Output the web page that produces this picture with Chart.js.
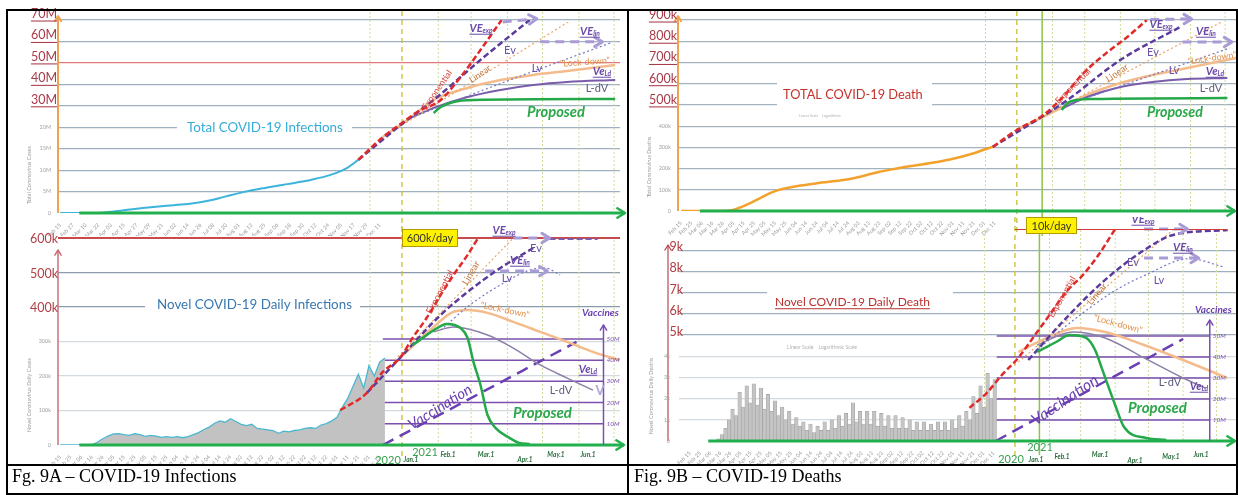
<!DOCTYPE html>
<html>
<head>
<meta charset="utf-8">
<script src="https://cdn.jsdelivr.net/npm/chart.js@4.4.1/dist/chart.umd.min.js"></script>
<style>
  body { margin: 0; background: #fff; }
  #fig { position: relative; width: 1238px; height: 495px; overflow: hidden; background: #fff; }
  canvas { position: absolute; }
  .ln { position: absolute; background: #000; }
  .cap { position: absolute; top: 466px; height: 28px; line-height: 28px; font: 18px 'Liberation Serif', serif; color: #000; white-space: nowrap; }
</style>
</head>
<body>
<div id="fig">
  <canvas id="tl"></canvas>
  <canvas id="bl"></canvas>
  <canvas id="tr"></canvas>
  <canvas id="br"></canvas>
  <div class="ln" style="left:6px;top:9px;width:1232px;height:2px"></div>
  <div class="ln" style="left:6px;top:9px;width:2px;height:486px"></div>
  <div class="ln" style="left:627px;top:9px;width:2px;height:486px"></div>
  <div class="ln" style="left:1236px;top:9px;width:2px;height:486px"></div>
  <div class="ln" style="left:6px;top:464px;width:1232px;height:2px"></div>
  <div class="ln" style="left:6px;top:493px;width:1232px;height:2px"></div>
  <div class="cap" style="left:12px">Fg. 9A – COVID-19 Infections</div>
  <div class="cap" style="left:634px">Fig. 9B – COVID-19 Deaths</div>
</div>
<script>
// day 0 = Feb 15 2020, day 321 = Jan 1 2021

// ---- Fig 9A top: total infections (millions)
const totalCaseDays = [0,10,20,30,40,50,60,70,80,90,100,110,120,130,140,150,160,170,180,190,200,210,220,230,240,250,260,270,280];
const totalCases = [0,0,0,0.01,0.08,0.34,0.64,0.94,1.2,1.45,1.68,1.9,2.12,2.45,2.9,3.5,4.15,4.75,5.3,5.75,6.2,6.6,7.0,7.45,8.0,8.6,9.4,10.6,12.4];
const expDaysA = [280,303,321,334,354,371,388,406];
const expCasesA = [12.4,17.7,22.0,27.1,32.7,43.4,56.0,70];
const evDaysA = [280,321,348,390,430];
const evCasesA = [12.4,21.5,32.7,52.3,70];
const linDaysA = [314,463];
const linCasesA = [19.4,69.1];
const lvDaysA = [328,413,499];
const lvCasesA = [24.3,42,59.3];
const veExpDaysA = [407,436];
const veExpCasesA = [69.1,70.6];
const veLinDaysA = [439,492];
const veLinCasesA = [59.8,59.8];
const lockDaysA = [303,328,348,377,405,433,462,503];
const lockCasesA = [17.7,24.3,32.7,38.3,42,44.4,46.2,49];
const ldvDaysA = [328,348,377,405,433,462,503];
const ldvCasesA = [24.3,29,34.1,37.4,39.7,41.1,42];
const propDaysA = [348,354,365,382,503];
const propCasesA = [26.6,29.4,31.8,32.7,33.2];
const tickValsA = [0,5,10,15,20,30,40,50,60,70];
const tickLabelsA = ['0','5M','10M','15M','20M','30M','40M','50M','60M','70M'];

// ---- Fig 9A bottom: daily infections (thousands)
const dailyCases = [0,0,0,0,0,0.4,1,8,18,26,32,33,30,28,33,30,25,28,26,22,24,22,24,21,24,30,36,45,52,63,70,66,76,68,60,56,60,48,46,44,42,34,40,38,42,44,48,50,48,58,62,70,80,110,135,170,205,165,230,200,240,252];
const dailyCaseDays = dailyCases.map((v, i) => i * 5);
const expDaysB = [263,288,303,319,330,342,354,365,377,386];
const expCasesB = [101,151,212,252,310,368,435,493,551,600];
const evDaysB = [288,319,354,379,405,433];
const evCasesB = [151,252,377,449,513,571];
const evFlatDaysB = [447,488];
const evFlatCasesB = [598,598];
const linDaysB = [314,416];
const linCasesB = [246,600];
const lvDaysB = [354,379,405,430,443,456];
const lvCasesB = [333,406,464,507,513,493];
const veExpDaysB = [416,447];
const veExpCasesB = [600,600];
const veLinDaysB = [392,445];
const veLinCasesB = [504,504];
const lockDaysB = [319,348,363,377,394,416,439,462,484,507];
const lockCasesB = [252,342,383,391,383,357,328,299,270,246];
const ldvDaysB = [348,365,394,416,439,462,484];
const ldvCasesB = [328,342,319,281,232,194,159];
const propDaysB = [330,356,359,371,377,382,388,394,401,413,421,430];
const propCasesB = [290,348,351,339,310,241,174,87,49,20,6,3];
const vacDaysB = [303,470];
const vacMillionsB = [0,48.6];
const tickValsB = [0,100,200,300,400,500,600];
const tickLabelsB = ['0','100k','200k','300k','400k','500k','600k'];

// ---- Fig 9B top: total deaths (thousands)
const totalDeathDays = [0,10,20,30,40,47,55,62,69,76,84,92,100,110,120,130,140,150,160,170,180,190,200,210,220,230,240,250,260,270,280,290,298];
const totalDeaths = [0,0,0,0,0,2,14,28,44,62,82,97,107,117,124,131,137,143,150,160,173,185,195,204,212,219,227,236,246,258,272,290,302];
const expDaysC = [298,321,344,361,379,399,417,434];
const expDeathsC = [302,382,452,537,650,745,820,900];
const evDaysC = [298,344,365,411,463];
const evDeathsC = [302,448,523,712,867];
const linDaysC = [341,499];
const linDeathsC = [438,891];
const lvDaysC = [347,506];
const lvDeathsC = [467,768];
const veExpDaysC = [437,473];
const veExpDeathsC = [902,905];
const veLinDaysC = [465,508];
const veLinDeathsC = [796,796];
const lockDaysC = [321,361,382,411,439,469,512];
const lockDeathsC = [382,490,547,603,641,674,721];
const ldvDaysC = [361,382,411,439,469,504];
const ldvDeathsC = [485,537,584,608,622,627];
const propDaysC = [360,365,373,387,504];
const propDeathsC = [476,509,523,528,532];
const tickValsC = [0,100,200,300,400,500,600,700,800,900];
const tickLabelsC = ['0','100k','200k','300k','400k','500k','600k','700k','800k','900k'];

// ---- Fig 9B bottom: daily deaths (thousands)
const dailyDeaths = [0.1,0.3,0.6,1.0,1.5,1.2,2.3,1.6,2.6,1.8,2.7,1.7,2.5,1.5,2.2,1.4,1.9,1.2,1.6,1.0,1.4,0.8,1.1,0.7,0.9,0.5,0.8,0.4,0.7,0.5,0.9,0.5,1.0,0.6,1.2,0.7,1.3,0.8,1.8,0.9,1.4,0.8,1.4,0.8,1.4,0.7,1.3,0.7,1.2,0.6,1.2,0.6,1.1,0.6,1.0,0.5,0.9,0.5,0.9,0.5,0.8,0.5,0.9,0.5,0.9,0.5,1.0,0.6,1.2,0.7,1.4,1.0,2.1,1.3,2.6,1.6,3.2,2.0,2.9];
const dailyDeathDays = dailyDeaths.map((v, i) => 28 + i * 3.5);
const expDaysD = [276,293,308,324,339,352,367,382,396,411];
const expDeathsD = [1.56,2.26,3.11,3.92,5.0,5.94,7.03,7.83,8.77,10.0];
const evDaysD = [333,367,402,437,463,512];
const evDeathsD = [3.82,5.8,7.6,9.0,9.72,9.95];
const linDaysD = [324,464];
const linDeathsD = [3.73,10.0];
const lvDaysD = [341,376,411,437,478,509];
const lvDeathsD = [4.3,5.8,7.1,7.8,8.6,8.2];
const veExpDaysD = [437,476];
const veExpDeathsD = [10,10];
const veLinDaysD = [437,486];
const veLinDeathsD = [8.63,8.63];
const lockDaysD = [324,350,376,402,437,472,512];
const lockDeathsD = [4.2,4.86,5.33,5.14,4.53,3.82,2.97];
const ldvDaysD = [341,373,402,437,472,492];
const ldvDeathsD = [4.53,5.14,4.86,3.92,2.97,2.5];
const propDaysD = [341,358,370,385,393,399,406,411,419,439,457];
const propDeathsD = [4.2,4.67,5.0,4.86,4.29,3.44,2.41,1.7,0.66,0.14,0.05];
const vacDaysD = [302,472];
const vacMillionsD = [0,48.6];
const limitDaysD = [321,512];
const limitDeathsD = [10,10];
const tickValsD = [0,1,2,3,4,5,6,7,8,9,10];
const tickLabelsD = ['0','1k','2k','3k','4k','5k','6k','7k','8k','9k',''];

// vaccines (millions) and month markers
const vaccineLevels = [10,20,30,40,50];
const monthDays = [291,321,352,380,411,441,472,502];
const JAN1 = 321;

// projection part of the time axis is drawn a bit wider than 2020
function xu(d) { return d <= JAN1 ? d : JAN1 + (d - JAN1) * 1.1; }
// fig 9A top axis: 5M steps up to 20M, then 10M steps
function stepA(m) { return m <= 20 ? m / 5 : 4 + (m - 20) / 10; }

const MON = ['Jan','Feb','Mar','Apr','May','Jun','Jul','Aug','Sep','Oct','Nov','Dec'];
function dateLabel(d) {
  const t = new Date(2020, 1, 15 + d);
  return MON[t.getMonth()] + ' ' + String(t.getDate()).padStart(2, '0');
}
function range(a, b, s) { const r = []; for (let v = a; v <= b; v += s) r.push(v); return r; }

const S = {
  exp: { borderColor: '#e02a2a', borderWidth: 2.5, borderDash: [6, 3] },
  ev: { borderColor: '#5b3c9c', borderWidth: 2.5, borderDash: [6, 3] },
  lin: { borderColor: '#eba56a', borderWidth: 1.2, borderDash: [2, 2.5] },
  lv: { borderColor: '#7777c4', borderWidth: 1.2, borderDash: [2, 2.5] },
  ve: { borderColor: '#a99bd6', borderWidth: 3, borderDash: [9, 6], arrow: true, clip: false },
  lock: { borderColor: '#f4bc8c', borderWidth: 2.5 },
  ldv: { borderColor: '#7a5cab', borderWidth: 2 },
  ldvThin: { borderColor: '#8c80a8', borderWidth: 1.5 },
  prop: { borderColor: '#25a84a', borderWidth: 2.5 },
  vac: { borderColor: '#6b40b4', borderWidth: 2.5, borderDash: [12, 7], yAxisID: 'y2' },
  vl: { borderColor: '#7b4fae', borderWidth: 1.5, yAxisID: 'y2' }
};

function line(days, vals, style, extra) {
  return Object.assign({
    type: 'line',
    data: days.map((d, i) => ({ x: xu(d), y: vals[i] })),
    pointRadius: 0, fill: false, tension: 0.35, cubicInterpolationMode: 'monotone'
  }, style, extra || {});
}
function vaccineLines(from, to) {
  return vaccineLevels.map(v => line([from, to], [v, v], S.vl));
}

function chev(c, x0, y0, x1, y1, color, s, w) {
  const a = Math.atan2(y1 - y0, x1 - x0);
  c.save();
  c.strokeStyle = color; c.lineWidth = w; c.setLineDash([]); c.lineCap = 'round'; c.lineJoin = 'round';
  c.beginPath();
  c.moveTo(x1 - s * Math.cos(a - 0.55), y1 - s * Math.sin(a - 0.55));
  c.lineTo(x1, y1);
  c.lineTo(x1 - s * Math.cos(a + 0.55), y1 - s * Math.sin(a + 0.55));
  c.stroke();
  c.restore();
}

function txt(c, o, L, T) {
  c.save();
  c.translate(o.x - L, o.y - T);
  if (o.rot) c.rotate(o.rot * Math.PI / 180);
  const fam = o.fam || 'Lato, sans-serif';
  const st = o.style || '';
  let size = o.size || 10;
  c.font = st + ' ' + size + 'px ' + fam;
  if (o.w) { size = size * o.w / c.measureText(o.t).width; c.font = st + ' ' + size + 'px ' + fam; }
  c.textBaseline = 'middle';
  c.textAlign = 'left';
  const w = c.measureText(o.t).width;
  let subW = 0;
  if (o.sub) {
    c.font = st + ' ' + (size * 0.6) + 'px ' + fam;
    subW = c.measureText(o.sub).width;
    c.font = st + ' ' + size + 'px ' + fam;
  }
  const total = w + subW;
  const x0 = o.align === 'left' ? 0 : o.align === 'right' ? -total : -total / 2;
  c.fillStyle = o.c;
  c.fillText(o.t, x0, 0);
  if (o.sub) {
    c.font = st + ' ' + (size * 0.6) + 'px ' + fam;
    c.fillText(o.sub, x0 + w, size * 0.3);
  }
  if (o.ul) c.fillRect(x0, size * 0.52, total, Math.max(1, size / 12));
  c.restore();
}

const DECO = {};
const deco = {
  id: 'deco',
  beforeDatasetsDraw(chart) {
    const o = DECO[chart.canvas.id], c = chart.ctx, L = o.L, T = o.T, xs = chart.scales.x;
    (o.blanks || []).forEach(b => { c.fillStyle = '#fff'; c.fillRect(b[0] - L, b[1] - T, b[2], b[3]); });
    (o.vlines || []).forEach(v => {
      const px = xs.getPixelForValue(xu(v.day));
      c.save();
      c.strokeStyle = v.color; c.lineWidth = v.width; c.setLineDash(v.dash || []);
      c.beginPath(); c.moveTo(px, v.y0 - T); c.lineTo(px, v.y1 - T); c.stroke();
      c.restore();
    });
  },
  afterDatasetsDraw(chart) {
    const o = DECO[chart.canvas.id], c = chart.ctx, L = o.L, T = o.T;
    const xs = chart.scales.x, ys = chart.scales.y;
    chart.data.datasets.forEach((ds, i) => {
      if (!ds.arrow) return;
      const p = chart.getDatasetMeta(i).data, n = p.length;
      chev(c, p[n - 2].x, p[n - 2].y, p[n - 1].x, p[n - 1].y, ds.borderColor, 9, ds.borderWidth);
    });
    // y axis arrow
    const a = o.yAxis;
    c.save();
    c.strokeStyle = a.color; c.lineWidth = a.width;
    c.beginPath(); c.moveTo(a.x - L, a.y0 - T); c.lineTo(a.x - L, a.y1 - T); c.stroke();
    c.restore();
    chev(c, a.x - L, a.y0 - T, a.x - L, a.y1 - T, a.color, 6, a.width);
    // green time axis
    const g = o.xAxis;
    const gy = ys.getPixelForValue(0);
    const gx0 = xs.getPixelForValue(xu(g.from)), gx1 = g.to - L;
    c.save();
    c.strokeStyle = '#22b04e'; c.lineWidth = 3;
    c.beginPath(); c.moveTo(gx0, gy); c.lineTo(gx1, gy); c.stroke();
    c.restore();
    chev(c, gx1 - 10, gy, gx1, gy, '#22b04e', 9, 2.5);
    // vaccine axis
    if (o.vax) {
      const y2 = chart.scales.y2;
      const vx = xs.getPixelForValue(xu(o.vax.day));
      c.save();
      c.strokeStyle = '#7b4fae'; c.lineWidth = 1.5;
      c.beginPath(); c.moveTo(vx, y2.getPixelForValue(0)); c.lineTo(vx, o.vax.top - T); c.stroke();
      c.restore();
      chev(c, vx, y2.getPixelForValue(0), vx, o.vax.top - T, '#7b4fae', 6, 1.5);
      vaccineLevels.forEach(v => {
        txt(c, { x: vx + L + 3, y: y2.getPixelForValue(v) + T, t: v + 'M', c: '#7b4fae', size: 6.5, style: 'italic', align: 'left' }, L, T);
      });
    }
    // yellow boxes
    (o.boxes || []).forEach(b => {
      c.fillStyle = '#fff200'; c.fillRect(b.x - L, b.y - T, b.w, b.h);
      c.strokeStyle = '#b49a00'; c.lineWidth = 1; c.strokeRect(b.x - L + 0.5, b.y - T + 0.5, b.w - 1, b.h - 1);
      txt(c, { x: b.x + b.w / 2, y: b.y + b.h / 2 + 0.5, t: b.t, c: '#333', size: 11 }, L, T);
    });
    // y tick labels
    const yl = o.yl;
    yl.vals.forEach((v, i) => {
      const py = ys.getPixelForValue(v) + T;
      if (i >= yl.bigFrom) {
        txt(c, { x: yl.bigX, y: py + yl.dy, t: yl.labels[i], c: yl.color, size: yl.size, align: 'right', ul: yl.ul }, L, T);
      } else {
        txt(c, { x: yl.smallX, y: py, t: yl.labels[i], c: '#a3a3a3', size: 5.5, align: 'right' }, L, T);
      }
    });
    (o.texts || []).forEach(t => txt(c, t, L, T));
  }
};

function xScale(max, tickDays, h) {
  return {
    type: 'linear', min: -2, max: max,
    grid: { display: false }, border: { display: false },
    afterBuildTicks: s => { s.ticks = tickDays.map(d => ({ value: xu(d) })); },
    afterFit: s => { s.height = h; },
    ticks: {
      autoSkip: false, maxRotation: 45, minRotation: 45, padding: 1,
      color: '#9a9a9a', font: { size: 5.5, family: 'Lato' },
      callback: (v, i) => dateLabel(tickDays[i])
    }
  };
}
function yScale(max, vals, color, width) {
  return {
    type: 'linear', min: 0, max: max,
    border: { display: false }, ticks: { display: false },
    afterBuildTicks: s => { s.ticks = vals.map(v => ({ value: v })); },
    afterFit: s => { s.width = 50; },
    grid: { drawTicks: false, color: ctx => color(ctx.tick.value), lineWidth: ctx => width(ctx.tick.value) }
  };
}

function build(id, box, padTop, padRight, datasets, scales, d) {
  const cv = document.getElementById(id);
  cv.width = box[2]; cv.height = box[3];
  cv.style.left = box[0] + 'px'; cv.style.top = box[1] + 'px';
  DECO[id] = Object.assign({ L: box[0], T: box[1] }, d);
  return new Chart(cv, {
    type: 'line',
    data: { datasets: datasets },
    options: {
      responsive: false, animation: false, devicePixelRatio: 1,
      layout: { padding: { top: padTop, right: padRight, left: 0, bottom: 0 } },
      plugins: { legend: { display: false }, tooltip: { enabled: false } },
      scales: scales
    },
    plugins: [deco]
  });
}

const LBL = (x, y, t, c, extra) => Object.assign({ x: x, y: y, t: t, c: c }, extra || {});
const VE = (x, y, sub) => ({ x: x, y: y, t: 'VE', sub: sub, c: '#6a4aa8', size: 11, style: 'bold italic', ul: true });
const PURP = '#6a52a8', RED = '#d8453f', ORG = '#c0763e', LOCK = '#e0904a', GRN = '#2aa84a';
const monthLbl = '#2d6e3e';

function vlinesFor(y0, y1, jan1Top, jan1Bot, extra) {
  const v = monthDays.filter(d => d !== JAN1).map(d => ({ day: d, color: '#cfdc9a', width: 1, dash: [2, 2], y0: y0, y1: y1 }));
  v.push({ day: JAN1, color: '#c8c030', width: 1.3, dash: [5, 4], y0: jan1Top, y1: jan1Bot });
  return v.concat(extra || []);
}

// ================= Fig 9A top
build('tl', [8, 8, 620, 228], 12, 8, [
  line(propDaysA, propCasesA.map(stepA), S.prop),
  line(expDaysA, expCasesA.map(stepA), S.exp),
  line(evDaysA, evCasesA.map(stepA), S.ev, { tension: 0 }),
  line(veExpDaysA, veExpCasesA.map(stepA), S.ve),
  line(veLinDaysA, veLinCasesA.map(stepA), S.ve),
  line(linDaysA, linCasesA.map(stepA), S.lin),
  line(lvDaysA, lvCasesA.map(stepA), S.lv),
  line(ldvDaysA, ldvCasesA.map(stepA), S.ldv),
  line(lockDaysA, lockCasesA.map(stepA), S.lock),
  line(totalCaseDays, totalCases.map(stepA), { borderColor: '#3cb4dc', borderWidth: 2 })
], {
  x: xScale(525.7, range(0, 300, 12), 23),
  y: yScale(9, tickValsA.map(stepA), v => v === 0 ? 'rgba(0,0,0,0)' : v === 7 ? '#e07a7a' : '#9fb0be', v => 1.2)
}, {
  blanks: [[177, 121, 175, 12]],
  vlines: vlinesFor(12, 213, 11, 236),
  yAxis: { x: 58, y0: 213, y1: 16, color: '#f0a24e', width: 2 },
  xAxis: { from: 18, to: 625 },
  yl: { vals: tickValsA.map(stepA), labels: tickLabelsA, bigFrom: 5, bigX: 57, smallX: 51, dy: -6, color: '#a83a48', size: 12.5, ul: true },
  texts: [
    LBL(187, 128, 'Total COVID-19 Infections', '#36acd9', { w: 156, align: 'left', size: 15 }),
    LBL(29, 175, 'Total Coronavirus Cases', '#9a9a9a', { size: 5.5, rot: -90 }),
    LBL(437, 90, 'Exponential', RED, { w: 46, rot: -55 }),
    LBL(480, 74, 'Linear', ORG, { w: 24, rot: -35 }),
    LBL(510, 50, 'Ev', PURP, { size: 11 }),
    LBL(537, 68, 'Lv', PURP, { size: 11 }),
    VE(481, 28, 'exp'),
    VE(590, 31, 'lin'),
    LBL(585, 62, '"Lock-down"', LOCK, { w: 50, rot: -4 }),
    Object.assign(VE(602, 71, 'Ld'), { t: 'Ve' }),
    LBL(597, 88, 'L-dV', '#5c5c7c', { size: 11 }),
    LBL(527, 112, 'Proposed', GRN, { w: 58, align: 'left', style: 'bold italic', size: 15 })
  ]
});

// ================= Fig 9A bottom
build('bl', [8, 226, 620, 239], 12, 8, [
  line(propDaysB, propCasesB, S.prop),
  line(expDaysB, expCasesB, S.exp),
  line(evDaysB, evCasesB, S.ev),
  line(evFlatDaysB, evFlatCasesB, S.ev, { borderColor: '#7a5cb0' }),
  line(veExpDaysB, veExpCasesB, S.ve),
  line(veLinDaysB, veLinCasesB, S.ve),
  line(linDaysB, linCasesB, S.lin),
  line(lvDaysB, lvCasesB, S.lv),
  line(ldvDaysB, ldvCasesB, S.ldvThin),
  line(lockDaysB, lockCasesB, S.lock),
  line(vacDaysB, vacMillionsB, S.vac, { tension: 0 }),
  line(dailyCaseDays, dailyCases, { borderColor: '#4ab8d0', borderWidth: 1.3, fill: 'origin', backgroundColor: '#c2c2c2' }, { tension: 0, cubicInterpolationMode: 'default' })
].concat(vaccineLines(303, 493)), {
  x: xScale(525.7, range(0, 300, 10), 20),
  y: yScale(600, tickValsB, v => v === 600 ? '#c84a4a' : v >= 400 ? '#8c9cac' : v === 0 ? 'rgba(0,0,0,0)' : '#d3dae0', v => v === 600 ? 2 : 1.2),
  y2: { display: false, min: 0, max: 97.6 }
}, {
  blanks: [[145, 297, 215, 16]],
  vlines: vlinesFor(240, 445, 226, 457),
  yAxis: { x: 58, y0: 445, y1: 250, color: '#c8707a', width: 1.5 },
  xAxis: { from: 18, to: 624 },
  vax: { day: 493, top: 325 },
  boxes: [{ x: 402, y: 229, w: 56, h: 18, t: '600k/day' }],
  yl: { vals: tickValsB, labels: tickLabelsB, bigFrom: 4, bigX: 58, smallX: 51, dy: 1, color: '#b04048', size: 12.5, ul: false },
  texts: [
    LBL(157, 305, 'Novel COVID-19 Daily Infections', '#3a78b0', { w: 195, align: 'left', size: 14 }),
    LBL(29, 395, 'Novel Coronavirus Daily Cases', '#9a9a9a', { size: 5.5, rot: -90 }),
    LBL(440, 292, 'Exponential', RED, { w: 48, rot: -62 }),
    LBL(471, 273, 'Linear', ORG, { w: 26, rot: -60 }),
    VE(504, 230, 'exp'),
    LBL(536, 248, 'Ev', PURP, { size: 11 }),
    VE(520, 260, 'lin'),
    LBL(507, 278, 'Lv', PURP, { size: 11 }),
    LBL(505, 310, '"Lock-down"', LOCK, { w: 50, rot: 12 }),
    Object.assign(VE(588, 369, 'Ld'), { t: 'Ve' }),
    LBL(600, 391, 'V', '#b0a4d8', { size: 13, style: 'bold' }),
    LBL(561, 390, 'L-dV', '#5c5c7c', { size: 11 }),
    LBL(513, 413, 'Proposed', GRN, { w: 59, align: 'left', style: 'bold italic', size: 15 }),
    LBL(440, 407, 'Vaccination', '#6a3fb0', { w: 72, rot: -32, style: 'italic' }),
    LBL(582, 313, 'Vaccines', '#6a3fb0', { size: 10, style: 'bold italic', align: 'left' }),
    LBL(388, 460, '2020', '#3aa050', { size: 11 }),
    LBL(425, 452, '2021', '#3aa050', { size: 11 }),
    LBL(411, 460, 'Jan.1', monthLbl, { size: 6.5, style: 'bold italic' }),
    LBL(448, 455, 'Feb.1', monthLbl, { size: 6.5, style: 'bold italic' }),
    LBL(486, 455, 'Mar.1', monthLbl, { size: 6.5, style: 'bold italic' }),
    LBL(525, 460, 'Apr.1', monthLbl, { size: 6.5, style: 'bold italic' }),
    LBL(556, 455, 'May.1', monthLbl, { size: 6.5, style: 'bold italic' }),
    LBL(588, 455, 'Jun.1', monthLbl, { size: 6.5, style: 'bold italic' })
  ]
});

// ================= Fig 9B top
const markDay = 343;
build('tr', [629, 8, 609, 228], 12, 1, [
  line(propDaysC, propDeathsC, S.prop),
  line(expDaysC, expDeathsC, S.exp),
  line(evDaysC, evDeathsC, S.ev),
  line(veExpDaysC, veExpDeathsC, S.ve),
  line(veLinDaysC, veLinDeathsC, S.ve),
  line(linDaysC, linDeathsC, S.lin),
  line(lvDaysC, lvDeathsC, S.lv),
  line(ldvDaysC, ldvDeathsC, S.ldv),
  line(lockDaysC, lockDeathsC, S.lock),
  line(totalDeathDays, totalDeaths, { borderColor: '#f2a22c', borderWidth: 2.5 })
], {
  x: xScale(531.5, range(0, 300, 10), 25),
  y: yScale(900, tickValsC, v => v === 0 ? 'rgba(0,0,0,0)' : '#a3b2bf', v => 1.2)
}, {
  blanks: [[777, 76, 155, 36]],
  vlines: vlinesFor(12, 211, 11, 236, [{ day: markDay, color: '#8cc63f', width: 1.5, y0: 11, y1: 236 }]),
  yAxis: { x: 678, y0: 211, y1: 16, color: '#f0a24e', width: 2 },
  xAxis: { from: 18, to: 1235 },
  yl: { vals: tickValsC, labels: tickLabelsC, bigFrom: 5, bigX: 677, smallX: 671, dy: -5, color: '#a83a48', size: 12.5, ul: true },
  texts: [
    LBL(783, 95, 'TOTAL COVID-19 Death', '#c4332b', { w: 140, align: 'left', size: 16 }),
    LBL(820, 116, 'Linear Scale    Logarithmic', '#b0b0b0', { w: 42, size: 4 }),
    LBL(649, 167, 'Total Coronavirus Deaths', '#9a9a9a', { size: 5.5, rot: -90 }),
    LBL(1073, 86, 'Exponential', RED, { w: 46, rot: -45 }),
    LBL(1117, 73, 'Linear', ORG, { w: 25, rot: -35 }),
    LBL(1153, 52, 'Ev', PURP, { size: 11 }),
    LBL(1174, 70, 'Lv', PURP, { size: 11 }),
    VE(1161, 24, 'exp'),
    VE(1206, 31, 'lin'),
    LBL(1212, 58, '"Lock-down"', LOCK, { w: 49, rot: -8 }),
    Object.assign(VE(1215, 71, 'Ld'), { t: 'Ve' }),
    LBL(1211, 88, 'L-dV', '#5c5c7c', { size: 11 }),
    LBL(1147, 112, 'Proposed', GRN, { w: 56, align: 'left', style: 'bold italic', size: 15 })
  ]
});

// ================= Fig 9B bottom
build('br', [629, 217, 609, 248], 12, 1, [
  line(propDaysD, propDeathsD, S.prop),
  line(limitDaysD, limitDeathsD, { borderColor: '#d23c3c', borderWidth: 2 }, { tension: 0 }),
  line(expDaysD, expDeathsD, S.exp),
  line(evDaysD, evDeathsD, S.ev),
  line(veExpDaysD, veExpDeathsD, S.ve),
  line(veLinDaysD, veLinDeathsD, S.ve),
  line(linDaysD, linDeathsD, S.lin),
  line(lvDaysD, lvDeathsD, S.lv),
  line(ldvDaysD, ldvDeathsD, S.ldvThin),
  line(lockDaysD, lockDeathsD, S.lock),
  line(vacDaysD, vacMillionsD, S.vac, { tension: 0 })
].concat(vaccineLines(303, 496)).concat([{
  type: 'bar',
  data: dailyDeathDays.map((d, i) => ({ x: xu(d), y: dailyDeaths[i] })),
  backgroundColor: '#c4c4c4', borderColor: '#a2a2a2', borderWidth: 0.6,
  barPercentage: 1, categoryPercentage: 1
}]), {
  x: xScale(531.5, range(0, 300, 10), 24),
  y: yScale(10, tickValsD, v => v === 0 || v === 10 ? 'rgba(0,0,0,0)' : v >= 5 ? '#9fb0be' : '#d3dae0', v => 1.2),
  y2: { display: false, min: 0, max: 101 }
}, {
  blanks: [[767, 284, 186, 14]],
  vlines: vlinesFor(230, 441, 217, 455, [{ day: markDay, color: '#8cc63f', width: 1.5, y0: 217, y1: 455 }]),
  yAxis: { x: 668, y0: 441, y1: 245, color: '#b84a52', width: 1.2 },
  xAxis: { from: 18, to: 1235 },
  vax: { day: 496, top: 320 },
  boxes: [{ x: 1026, y: 217, w: 51, h: 17, t: '10k/day' }],
  yl: { vals: tickValsD, labels: tickLabelsD, bigFrom: 5, bigX: 683, smallX: 670, dy: -3, color: '#b03a40', size: 12.5, ul: false },
  texts: [
    LBL(775, 302, 'Novel COVID-19 Daily Death', '#b8302e', { w: 155, align: 'left', size: 15, ul: true }),
    LBL(822, 347, 'Linear Scale    Logarithmic Scale', '#b0b0b0', { w: 70, size: 4 }),
    LBL(651, 396, 'Novel Coronavirus Daily Deaths', '#9a9a9a', { size: 5.5, rot: -90 }),
    VE(1143, 219, 'exp'),
    LBL(1062, 297, 'Exponential', RED, { w: 46, rot: -60 }),
    LBL(1097, 294, 'Linear', ORG, { w: 25, rot: -50 }),
    LBL(1133, 262, 'Ev', PURP, { size: 11 }),
    VE(1183, 247, 'lin'),
    LBL(1159, 280, 'Lv', PURP, { size: 11 }),
    LBL(1118, 324, '"Lock-down"', LOCK, { w: 50, rot: 15 }),
    LBL(1170, 382, 'L-dV', '#5c5c7c', { size: 11 }),
    Object.assign(VE(1199, 386, 'Ld'), { t: 'Ve' }),
    LBL(1128, 408, 'Proposed', GRN, { w: 59, align: 'left', style: 'bold italic', size: 15 }),
    LBL(1065, 400, 'Vaccination', '#6a3fb0', { w: 77, rot: -34, style: 'italic' }),
    LBL(1195, 310, 'Vaccines', '#6a3fb0', { size: 10, style: 'bold italic', align: 'left' }),
    LBL(1011, 459, '2020', '#3aa050', { size: 11 }),
    LBL(1040, 447, '2021', '#3aa050', { size: 11 }),
    LBL(1036, 460, 'Jan.1', monthLbl, { size: 6.5, style: 'bold italic' }),
    LBL(1062, 457, 'Feb.1', monthLbl, { size: 6.5, style: 'bold italic' }),
    LBL(1100, 455, 'Mar.1', monthLbl, { size: 6.5, style: 'bold italic' }),
    LBL(1135, 461, 'Apr.1', monthLbl, { size: 6.5, style: 'bold italic' }),
    LBL(1171, 457, 'May.1', monthLbl, { size: 6.5, style: 'bold italic' }),
    LBL(1201, 455, 'Jun.1', monthLbl, { size: 6.5, style: 'bold italic' })
  ]
});
</script>
</body>
</html>
